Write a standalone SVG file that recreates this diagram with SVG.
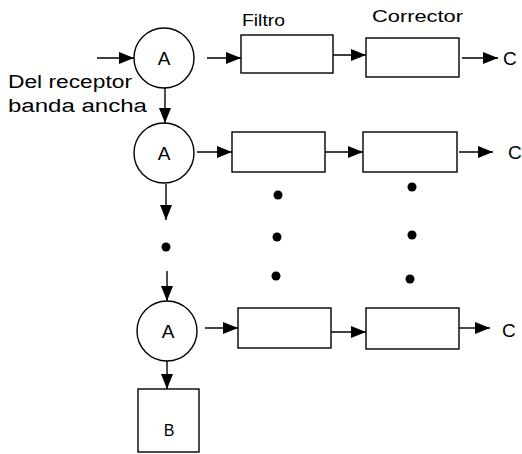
<svg xmlns="http://www.w3.org/2000/svg" width="522" height="454" viewBox="0 0 522 454">
<defs>
<marker id="ah" markerUnits="userSpaceOnUse" markerWidth="16" markerHeight="13" refX="15" refY="6.5" orient="auto">
<path d="M0,0.5 L15,6.5 L0,12.5 Z" fill="#000"/>
</marker>
<style>
.n{fill:#fff;stroke:#000;stroke-width:1.4}
.c{fill:none;stroke:#000;stroke-width:1.4;marker-end:url(#ah)}
.t{font-family:"Liberation Sans",Arial,sans-serif;fill:#000}
.d{fill:#000}
</style>
</defs>
<g id="labels">
<text class="t" x="242" y="26" font-size="17" textLength="43" lengthAdjust="spacingAndGlyphs">Filtro</text>
<text class="t" x="372" y="22" font-size="17" textLength="91" lengthAdjust="spacingAndGlyphs">Corrector</text>
<text class="t" x="8" y="88" font-size="18" textLength="124" lengthAdjust="spacingAndGlyphs">Del receptor</text>
<text class="t" x="8" y="112" font-size="18" textLength="139" lengthAdjust="spacingAndGlyphs">banda ancha</text>
</g>
<g id="A1"><circle class="n" cx="164" cy="58" r="30"/><text class="t" x="164" y="65" font-size="19" text-anchor="middle">A</text></g>
<g id="A2"><circle class="n" cx="164" cy="153" r="30"/><text class="t" x="164" y="160" font-size="19" text-anchor="middle">A</text></g>
<g id="A3"><circle class="n" cx="167" cy="331" r="30"/><text class="t" x="168" y="338" font-size="19" text-anchor="middle">A</text></g>
<g id="B"><rect class="n" x="138" y="389" width="61" height="63"/><text class="t" x="169" y="436" font-size="16" text-anchor="middle">B</text></g>
<g id="F1"><rect class="n" x="241" y="35" width="92" height="38"/></g>
<g id="K1"><rect class="n" x="366" y="38" width="93" height="39"/></g>
<g id="F2"><rect class="n" x="232" y="132" width="93" height="40"/></g>
<g id="K2"><rect class="n" x="363" y="132" width="94" height="40"/></g>
<g id="F3"><rect class="n" x="238" y="308" width="93" height="40"/></g>
<g id="K3"><rect class="n" x="366" y="308" width="93" height="41"/></g>
<g id="outputs">
<text class="t" x="503" y="65" font-size="19">C</text>
<text class="t" x="508" y="159" font-size="19">C</text>
<text class="t" x="502" y="337" font-size="19">C</text>
</g>
<g id="dots">
<circle class="d" cx="166" cy="247" r="4.5"/>
<circle class="d" cx="278" cy="195" r="4.5"/>
<circle class="d" cx="277" cy="237" r="4.5"/>
<circle class="d" cx="276" cy="276" r="4.5"/>
<circle class="d" cx="412" cy="187" r="4.5"/>
<circle class="d" cx="412" cy="235" r="4.5"/>
<circle class="d" cx="410" cy="279" r="4.5"/>
</g>
<g id="connectors">
<line class="c" x1="97" y1="58" x2="134" y2="58"/>
<line class="c" x1="207" y1="58" x2="241" y2="58"/>
<line class="c" x1="333" y1="55" x2="366" y2="55"/>
<line class="c" x1="462" y1="58" x2="498" y2="58"/>
<line class="c" x1="165" y1="88" x2="165" y2="123"/>
<line class="c" x1="197" y1="152" x2="232" y2="152"/>
<line class="c" x1="325" y1="152" x2="363" y2="152"/>
<line class="c" x1="459" y1="152" x2="493" y2="152"/>
<line class="c" x1="166" y1="184" x2="166" y2="220"/>
<line class="c" x1="167" y1="271" x2="167" y2="301"/>
<line class="c" x1="205" y1="328" x2="238" y2="328"/>
<line class="c" x1="331" y1="332" x2="366" y2="332"/>
<line class="c" x1="459" y1="328" x2="490" y2="328"/>
<line class="c" x1="167" y1="361" x2="167" y2="389"/>
</g>
</svg>
